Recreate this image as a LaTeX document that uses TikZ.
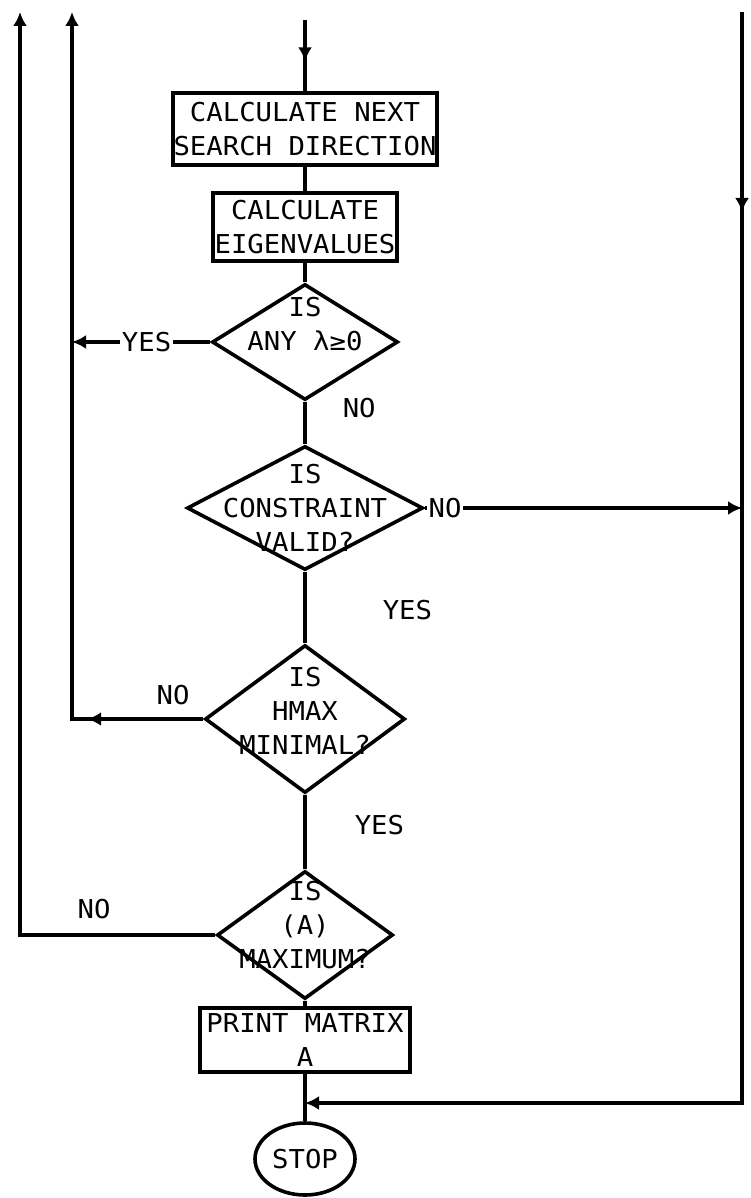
\documentclass[tikz,border=0pt]{standalone}
\usepackage{fontspec}
\newfontfamily\flowfont[FakeStretch=1.05]{DejaVu Sans Mono}
\usetikzlibrary{shapes.geometric, arrows.meta, positioning, calc, decorations.markings}

\begin{document}
\begin{tikzpicture}[
    x=0.5pt, y=-0.5pt,
    font=\flowfont\fontsize{13}{17}\selectfont,
    line width=1.8pt,
    box/.style={rectangle, draw, inner sep=0pt, align=center},
    decision/.style={diamond, draw, inner sep=0pt},
    terminal/.style={ellipse, draw, inner sep=0pt, minimum width=50pt, minimum height=36pt},
    arrow/.style={-{Latex[length=7pt,width=7pt]}},
    midarrow/.style={postaction={decorate, decoration={markings, mark=at position #1 with {\arrow{Latex[length=7pt,width=7pt]}}}}},
    lbl/.style={inner sep=1pt}
]
\useasboundingbox (0,0) rectangle (750,1198);

% Main column
\node[box, minimum width=132pt, minimum height=36pt] (search) at (305,129) {CALCULATE NEXT\\SEARCH DIRECTION};
\node[box, minimum width=92pt, minimum height=34pt] (eigen) at (305,227) {CALCULATE\\EIGENVALUES};
\node[decision, minimum width=93pt, minimum height=58pt,
      label={[align=center, yshift=9pt]center:IS\\ANY λ≥0}] (anypos) at (305,342) {};
\node[decision, minimum width=118pt, minimum height=62pt,
      label={[align=center]center:IS\\CONSTRAINT\\VALID?}] (valid) at (305,508) {};
\node[decision, minimum width=100pt, minimum height=74pt,
      label={[align=center, yshift=4pt]center:IS\\HMAX\\MINIMAL?}] (hmax) at (305,719) {};
\node[decision, minimum width=88pt, minimum height=64pt,
      label={[align=center, yshift=5pt]center:IS\\(A)\\MAXIMUM?}] (amax) at (305,935) {};
\node[box, minimum width=105pt, minimum height=32pt] (print) at (305,1040) {PRINT MATRIX\\A};
\node[terminal] (stop) at (305,1159) {STOP};

% Loose ends
\coordinate (entry) at (305,20);
\coordinate (innertop) at (72,12);
\coordinate (outertop) at (20,12);
\coordinate (righttop) at (742,12);
\coordinate (rightbot) at (742,1103);
\coordinate (join) at (305,1103);

% Main flow
\draw[midarrow=0.58] (entry) -- (search.north);
\draw (search.south) -- (eigen.north);
\draw (eigen.south) -- (anypos.north);
\draw (anypos.south) -- node[lbl, pos=0.15, right=17pt] {NO} (valid.north);
\draw (valid.south) -- node[lbl, pos=0.53, right=37pt] {YES} (hmax.north);
\draw (hmax.south) -- node[lbl, pos=0.4, right=23pt] {YES} (amax.north);
\draw (amax.south) -- (print.north);
\draw (print.south) -- (stop.north);

% Branches
\draw[arrow] (anypos.west) -- node[lbl, fill=white, pos=0.46] {YES} (innertop |- anypos.west);
\draw[arrow, midarrow=58pt] (hmax.west) -- node[lbl, above=5pt, pos=0.23] {NO} (innertop |- hmax.west) -- (innertop);
\draw[arrow] (amax.west) -- node[lbl, above=6pt, pos=0.62] {NO} (outertop |- amax.west) -- (outertop);
\draw[arrow] (valid.east) -- node[lbl, fill=white, right, pos=0] {NO} (righttop |- valid.east);
\draw[arrow, midarrow=100pt] (righttop) -- (rightbot) -- (join);

\end{tikzpicture}
\end{document}
